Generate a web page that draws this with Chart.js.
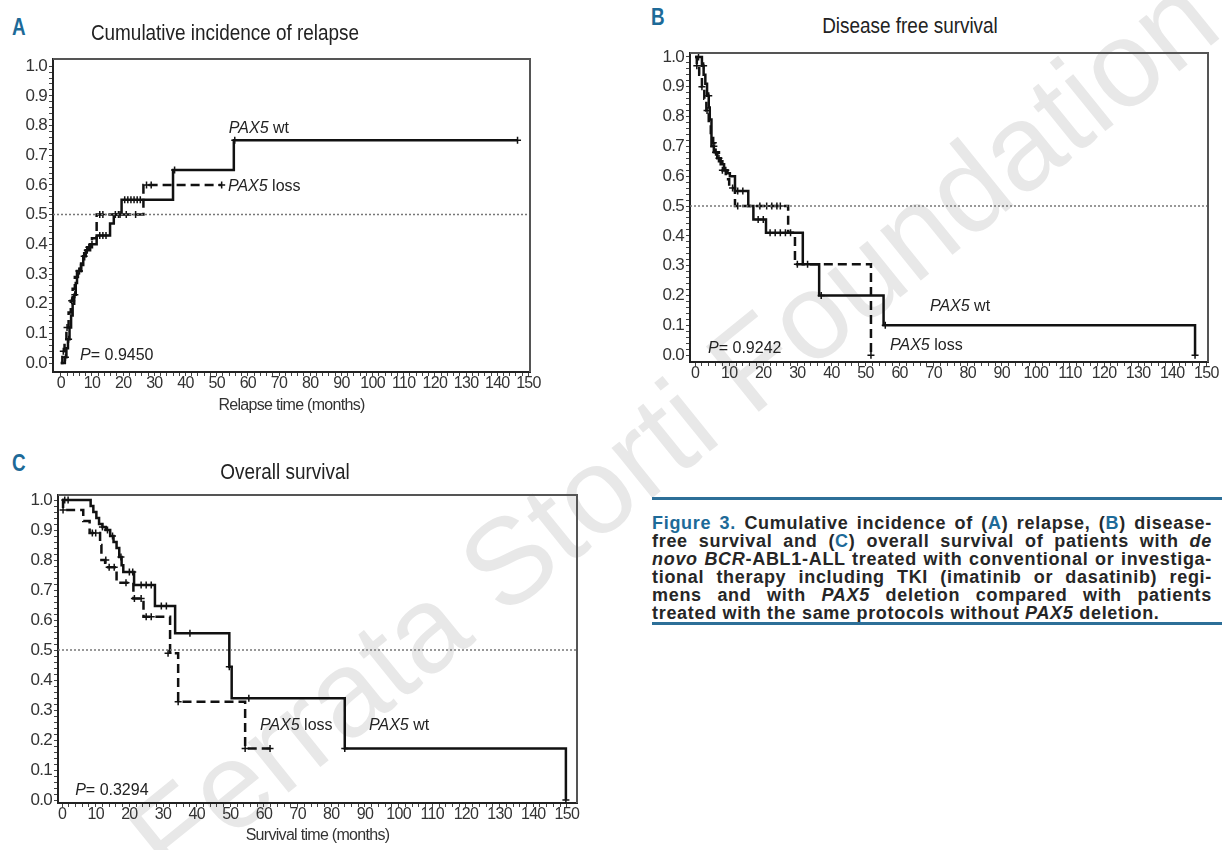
<!DOCTYPE html>
<html>
<head>
<meta charset="utf-8">
<script src="https://cdn.jsdelivr.net/npm/chart.js@4"></script>
<style>
  body { margin:0; background:#fff; width:1222px; height:850px; position:relative; overflow:hidden;
         font-family:'Liberation Sans',sans-serif; color:#222; }
  .wm { position:absolute; left:672px; top:428px; transform:translate(-50%,-50%) rotate(-39deg);
        font-family:'Liberation Sans',sans-serif; font-size:122px; color:#e8e8e8; white-space:nowrap; z-index:0; }
  .panel { position:absolute; z-index:1; }
  .letter { position:absolute; font-weight:bold; font-size:23px; color:#1d6a98; z-index:2;
            transform:scaleX(0.82); transform-origin:left top; }
  .ttl { position:absolute; font-size:22px; color:#222; transform:translate(-50%,-50%) scaleX(0.86);
         white-space:nowrap; z-index:2; }
  .cap { position:absolute; left:652px; width:560px; top:514px; font-size:18px; font-weight:bold; line-height:18px;
         letter-spacing:0.7px; color:#262626; z-index:2; }
  .cap div { text-align:justify; text-align-last:justify; white-space:nowrap; }
  .cap div.last { text-align-last:left; }
  .cap .bl { color:#1d6a98; }
  .rule { position:absolute; left:652px; width:570px; height:3px; background:#2d6f98; z-index:2; }
</style>
</head>
<body>
<div class="wm">Ferrata Storti Foundation</div>

<div class="letter" style="left:12px;top:14px">A</div>
<div class="ttl" style="left:225px;top:33px">Cumulative incidence of relapse</div>
<div class="panel" style="left:0;top:45px"><canvas id="chartA" width="545" height="375"></canvas></div>

<div class="letter" style="left:651px;top:4px">B</div>
<div class="ttl" style="left:910px;top:26px">Disease free survival</div>
<div class="panel" style="left:640px;top:40px"><canvas id="chartB" width="580" height="345"></canvas></div>

<div class="letter" style="left:12px;top:450px">C</div>
<div class="ttl" style="left:285px;top:472px">Overall survival</div>
<div class="panel" style="left:0;top:480px"><canvas id="chartC" width="595" height="370"></canvas></div>

<div class="rule" style="top:497px"></div>
<div class="cap">
  <div><span class="bl">Figure 3.</span> Cumulative incidence of (<span class="bl">A</span>) relapse, (<span class="bl">B</span>) disease-</div>
  <div>free survival and (<span class="bl">C</span>) overall survival of patients with <i>de</i></div>
  <div><i>novo BCR</i>-ABL1-ALL treated with conventional or investiga-</div>
  <div>tional therapy including TKI (imatinib or dasatinib) regi-</div>
  <div>mens and with <i>PAX5</i> deletion compared with patients</div>
  <div class="last">treated with the same protocols without <i>PAX5</i> deletion.</div>
</div>
<div class="rule" style="top:622px"></div>

<script>
// ---- data (time in months, probability) ----
const xTicks = [0, 10, 20, 30, 40, 50, 60, 70, 80, 90, 100, 110, 120, 130, 140, 150];
const yTicks = [0, 0.1, 0.2, 0.3, 0.4, 0.5, 0.6, 0.7, 0.8, 0.9, 1.0];

// A: cumulative incidence of relapse
const relWtT   = [0, 1.3, 1.8, 2.3, 2.8, 3.3, 3.8, 4.3, 4.8, 5.2, 6.5, 7.2, 8.0, 9.4, 11.5, 15.8, 17, 19.5, 36, 55.5, 146.5];
const relWtV   = [0, 0.02, 0.05, 0.08, 0.12, 0.16, 0.20, 0.23, 0.27, 0.31, 0.33, 0.36, 0.38, 0.40, 0.43, 0.47, 0.50, 0.55, 0.65, 0.75, 0.75];
const relLossT = [0, 0.5, 1.2, 1.8, 2.5, 3.2, 3.8, 4.5, 5.5, 6.5, 7.5, 8.5, 10, 11.5, 26.5, 51.6];
const relLossV = [0, 0.04, 0.08, 0.12, 0.17, 0.21, 0.25, 0.29, 0.31, 0.34, 0.37, 0.39, 0.42, 0.50, 0.60, 0.60];
const relWtCensT   = [1.5, 2.5, 4.5, 5.8, 7.5, 8.5, 10, 12.5, 13.5, 14.5, 17.5, 18.5, 20.5, 21.5, 22.5, 23.5, 24.5, 25.5, 36.5, 55.8, 146.5];
const relWtCensV   = [0.02, 0.08, 0.23, 0.31, 0.36, 0.38, 0.40, 0.43, 0.43, 0.43, 0.50, 0.50, 0.55, 0.55, 0.55, 0.55, 0.55, 0.55, 0.65, 0.75, 0.75];
const relLossCensT = [0.8, 2, 3.5, 6, 9, 12.5, 13.5, 19, 21, 24, 27.5, 29, 51.6];
const relLossCensV = [0.04, 0.12, 0.21, 0.31, 0.39, 0.50, 0.50, 0.50, 0.50, 0.50, 0.60, 0.60, 0.60];

// B: disease free survival
const dfsWtT   = [0, 2, 2.5, 3, 3.5, 4, 4.3, 4.8, 5.5, 6.5, 7.5, 8.5, 9.5, 10.2, 11.7, 15.6, 17.1, 20.8, 31.6, 36.4, 55.3, 146.7];
const dfsWtV   = [1, 0.97, 0.94, 0.91, 0.87, 0.83, 0.79, 0.70, 0.68, 0.66, 0.64, 0.62, 0.61, 0.60, 0.55, 0.50, 0.455, 0.41, 0.305, 0.20, 0.10, 0];
const dfsLossT = [0, 0.5, 1.2, 2, 2.7, 3.3, 4, 4.6, 5.3, 6, 7, 8, 9, 10, 11.7, 27.3, 29.3, 51.6];
const dfsLossV = [1, 0.97, 0.94, 0.90, 0.86, 0.82, 0.78, 0.74, 0.71, 0.68, 0.65, 0.62, 0.59, 0.56, 0.50, 0.41, 0.305, 0];
const dfsWtCensT   = [1, 2.5, 4, 5.5, 7, 9, 12.5, 14, 18.5, 20, 22, 23.5, 25, 26.5, 28, 33, 37, 55.8, 146.7];
const dfsWtCensV   = [1, 0.97, 0.87, 0.70, 0.66, 0.62, 0.55, 0.55, 0.455, 0.455, 0.41, 0.41, 0.41, 0.41, 0.41, 0.305, 0.20, 0.10, 0];
const dfsLossCensT = [0.5, 2, 3.5, 6, 8, 11, 12.5, 19, 21, 22.5, 24, 25, 30, 51.6];
const dfsLossCensV = [0.97, 0.90, 0.82, 0.68, 0.62, 0.56, 0.50, 0.50, 0.50, 0.50, 0.50, 0.50, 0.305, 0];

// C: overall survival
const osWtT   = [0, 8.5, 9.3, 10.2, 11, 12, 13, 14.3, 15.3, 16.2, 17, 17.7, 18.2, 21.4, 27.6, 33.6, 49.7, 50.4, 84, 149.7];
const osWtV   = [1, 0.98, 0.96, 0.94, 0.92, 0.91, 0.90, 0.88, 0.86, 0.84, 0.81, 0.783, 0.76, 0.717, 0.647, 0.556, 0.444, 0.339, 0.172, 0];
const osLossT = [0, 0.3, 6.3, 8.2, 11.3, 11.7, 12.8, 16.2, 21.2, 24.2, 32.1, 34.5, 54.4, 61.8];
const osLossV = [1, 0.967, 0.93, 0.89, 0.85, 0.80, 0.776, 0.724, 0.672, 0.611, 0.489, 0.328, 0.172, 0.172];
const osWtCensT   = [0.8, 1.8, 12, 13.5, 15, 17.5, 20, 21, 23.5, 25, 26.5, 29.5, 31, 38, 49.7, 55.5, 84, 149.7];
const osWtCensV   = [1, 1, 0.91, 0.90, 0.88, 0.81, 0.76, 0.76, 0.717, 0.717, 0.717, 0.647, 0.647, 0.556, 0.444, 0.339, 0.172, 0];
const osLossCensT = [0.3, 9, 10, 13, 14, 15.5, 19, 21.5, 23.5, 25, 26.5, 31.5, 34.5, 54.4, 61.8];
const osLossCensV = [0.967, 0.89, 0.89, 0.80, 0.776, 0.776, 0.724, 0.672, 0.672, 0.611, 0.611, 0.489, 0.328, 0.172, 0.172];

const FONT = "'Liberation Sans', sans-serif";
Chart.defaults.font.family = FONT;
Chart.defaults.color = '#333';

function pts(t, v) { return t.map((x, i) => ({ x: x, y: v[i] })); }

// tighter letters, the original uses a condensed face
const tightText = {
  id: 'tight',
  beforeUpdate(chart) { chart.ctx.letterSpacing = '-0.7px'; },
  beforeDraw(chart) { chart.ctx.letterSpacing = '-0.7px'; }
};

// top and right frame lines
const framePlugin = {
  id: 'frame',
  afterDraw(chart) {
    const a = chart.chartArea, ctx = chart.ctx;
    ctx.save();
    ctx.strokeStyle = '#555';
    ctx.lineWidth = 2;
    ctx.beginPath();
    ctx.moveTo(a.left, a.top);
    ctx.lineTo(a.right, a.top);
    ctx.lineTo(a.right, a.bottom);
    ctx.stroke();
    ctx.restore();
  }
};

// text labels at data coordinates, parts = [text, italic]
const notePlugin = {
  id: 'notes',
  afterDatasetsDraw(chart, args, opts) {
    const ctx = chart.ctx, sx = chart.scales.x, sy = chart.scales.y;
    ctx.save();
    ctx.letterSpacing = '0px';
    ctx.fillStyle = '#222';
    ctx.textBaseline = 'alphabetic';
    (opts.items || []).forEach(n => {
      let px = sx.getPixelForValue(n.x);
      const py = sy.getPixelForValue(n.y);
      n.parts.forEach(p => {
        ctx.font = (p[1] ? 'italic ' : '') + '16px ' + FONT;
        ctx.fillText(p[0], px, py);
        px += ctx.measureText(p[0]).width;
      });
    });
    ctx.restore();
  }
};

function makeKM(id, c) {
  const ds = [
    { data: [{ x: c.xmin, y: 0.5 }, { x: c.xmax, y: 0.5 }], borderColor: '#777', borderWidth: 1.5,
      borderDash: [2, 2], pointRadius: 0 },
    { data: pts(c.wtT, c.wtV), stepped: true, borderColor: '#111', borderWidth: 2.5, pointRadius: 0 },
    { data: pts(c.lossT, c.lossV), stepped: true, borderColor: '#111', borderWidth: 2.5,
      borderDash: [9, 5], pointRadius: 0 },
    { data: pts(c.wtCT, c.wtCV), showLine: false, pointStyle: 'cross', pointRadius: 3.5,
      borderColor: '#111', borderWidth: 1.5 },
    { data: pts(c.lossCT, c.lossCV), showLine: false, pointStyle: 'cross', pointRadius: 3.5,
      borderColor: '#111', borderWidth: 1.5 }
  ];
  return new Chart(document.getElementById(id), {
    type: 'line',
    data: { datasets: ds },
    options: {
      responsive: false,
      animation: false,
      layout: { padding: { top: c.padTop, right: c.padRight, left: 0, bottom: 0 } },
      plugins: { legend: { display: false }, tooltip: { enabled: false }, notes: { items: c.notes } },
      scales: {
        x: {
          type: 'linear', min: c.xmin, max: c.xmax,
          afterBuildTicks: s => { const t = []; for (let v = 0; v <= 150; v += 2) t.push({ value: v }); s.ticks = t; },
          afterFit: s => { s.height = c.xH; },
          ticks: { autoSkip: false, maxRotation: 0, padding: -2, font: { size: 16 }, color: '#333',
                   callback: v => xTicks.includes(v) ? String(v) : '' },
          grid: { drawOnChartArea: false, drawTicks: true, tickLength: 4, color: '#444' },
          border: { color: '#222', width: 2 },
          title: { display: !!c.xTitle, text: c.xTitle || '', font: { size: 16 }, color: '#333',
                   padding: { top: 2, bottom: 5 } }
        },
        y: {
          type: 'linear', min: c.ymin, max: c.ymax,
          afterBuildTicks: s => { const t = []; for (let i = 0; i <= 50; i++) t.push({ value: i / 50 }); s.ticks = t; },
          afterFit: s => { s.width = c.yW; },
          ticks: { autoSkip: false, padding: 2, font: { size: 17 }, color: '#333',
                   callback: v => { const k = Math.round(v * 50); return k % 5 === 0 ? yTicks[k / 5].toFixed(1) : ''; } },
          grid: { drawOnChartArea: false, drawTicks: true, tickLength: 4, color: '#444' },
          border: { color: '#222', width: 2 }
        }
      }
    },
    plugins: [tightText, framePlugin, notePlugin]
  });
}

makeKM('chartA', {
  wtT: relWtT, wtV: relWtV, lossT: relLossT, lossV: relLossV,
  wtCT: relWtCensT, wtCV: relWtCensV, lossCT: relLossCensT, lossCV: relLossCensV,
  xmin: -2.5, xmax: 150.5, ymin: -0.03, ymax: 1.024,
  yW: 53, xH: 48, padTop: 14, padRight: 15, xTitle: 'Relapse time (months)',
  notes: [
    { x: 53.9, y: 0.774, parts: [['PAX5', true], [' wt', false]] },
    { x: 53.6, y: 0.579, parts: [['PAX5', true], [' loss', false]] },
    { x: 6.2, y: 0.01, parts: [['P', true], ['= 0.9450', false]] }
  ]
});

makeKM('chartB', {
  wtT: dfsWtT, wtV: dfsWtV, lossT: dfsLossT, lossV: dfsLossV,
  wtCT: dfsWtCensT, wtCV: dfsWtCensV, lossCT: dfsLossCensT, lossCV: dfsLossCensV,
  xmin: -1.5, xmax: 150.5, ymin: -0.023, ymax: 1.013,
  yW: 50, xH: 23, padTop: 13, padRight: 12, xTitle: '',
  notes: [
    { x: 68.9, y: 0.148, parts: [['PAX5', true], [' wt', false]] },
    { x: 57.2, y: 0.017, parts: [['PAX5', true], [' loss', false]] },
    { x: 3.8, y: 0.007, parts: [['P', true], ['= 0.9242', false]] }
  ]
});

makeKM('chartC', {
  wtT: osWtT, wtV: osWtV, lossT: osLossT, lossV: osLossV,
  wtCT: osWtCensT, wtCV: osWtCensV, lossCT: osLossCensT, lossCV: osLossCensV,
  xmin: -1.2, xmax: 153, ymin: -0.01, ymax: 1.017,
  yW: 58, xH: 47, padTop: 15, padRight: 18, xTitle: 'Survival time (months)',
  notes: [
    { x: 58.8, y: 0.233, parts: [['PAX5', true], [' loss', false]] },
    { x: 91.2, y: 0.233, parts: [['PAX5', true], [' wt', false]] },
    { x: 3.9, y: 0.017, parts: [['P', true], ['= 0.3294', false]] }
  ]
});
</script>
</body>
</html>
